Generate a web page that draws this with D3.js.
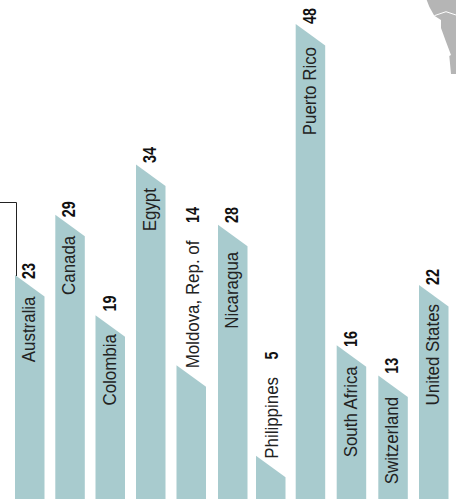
<!DOCTYPE html>
<html><head><meta charset="utf-8">
<script src="https://cdn.jsdelivr.net/npm/d3@7"></script>
<style>html,body{margin:0;padding:0;background:#fff;overflow:hidden}svg{display:block}</style>
</head><body><svg id="c" width="456" height="499"></svg>
<script>
const countries = ["Australia","Canada","Colombia","Egypt","Moldova, Rep. of","Nicaragua","Philippines","Puerto Rico","South Africa","Switzerland","United States"];
const values = [23,29,19,34,14,28,5,48,16,13,22];
const labelOutside = ["Moldova, Rep. of","Philippines"];
const mapOutline = [[426.7,0],[429.3,6.7],[434.3,15.7],[441,20],[441,28],[446,41.7],[451,55],[449.3,56],[451,74],[456,74],[456,0]];
const mapBorder = [[434.3,15.7],[446,11.7],[456,15]];

const svg = d3.select("#c");
const font = "'Liberation Sans',Arial,sans-serif";
const x = d3.scaleOrdinal().domain(countries).range([15,55.3,95.5,136,176.5,218,256,295.7,336.7,378.3,419]);
const barWidth = 29.5;
const y = d3.scaleLinear().domain([0,48]).range([505.9,24]);
const slant = 21.5;
const line = d3.line();
const labelNudge = {"Canada":-0.5,"Colombia":-2.5,"Egypt":2,"Nicaragua":5.5,"Puerto Rico":1.5,"South Africa":-0.5,"United States":-2.5};
const numberNudge = {"Australia":4,"Canada":2.4,"Colombia":-3.7,"Egypt":-1.5,"Nicaragua":-1.7,"South Africa":1.7,"Switzerland":-1.7};

svg.append("path").attr("d",line(mapOutline)+"Z").attr("fill","#b5b5b5");
svg.append("path").attr("d",line(mapBorder)).attr("fill","none").attr("stroke","#fff").attr("stroke-width",1);

const g = svg.selectAll("g.b").data(countries).join("g").attr("class","b");
g.append("path").attr("fill","#a8cbce").attr("d",(c,i)=>{
  const a=x(c), b=a+barWidth, t=y(values[i]);
  return line([[a,t],[b,t+slant],[b,y(0)],[a,y(0)]])+"Z";
});

svg.append("path").attr("fill","none").attr("stroke","#222").attr("stroke-width",1)
  .attr("d",line([[0,202.5],[x(countries[0])+1.5,202.5],[x(countries[0])+1.5,y(values[0])+1]]));

const sx = 0.89;
g.each(function(c,i){
  const sel=d3.select(this), out=labelOutside.includes(c), t=y(values[i]);
  const bx=x(c)+(out?22:20);
  const ly=out?t+3:t+21.5+(labelNudge[c]||0);
  const label=sel.append("text")
    .attr("transform",`translate(${bx},${ly}) rotate(-90) scale(${sx},1)`)
    .attr("text-anchor",out?"start":"end")
    .attr("font-family",font).attr("font-size",19).attr("fill","#222").text(c);
  const ny=out? ly-label.node().getComputedTextLength()*sx-17.5 : t+(numberNudge[c]||0);
  sel.append("text").attr("transform",`translate(${bx},${ny}) rotate(-90) scale(0.8,1)`)
    .attr("font-family",font).attr("font-size",18).attr("font-weight","700").attr("fill","#111").text(values[i]);
});
</script></body></html>
